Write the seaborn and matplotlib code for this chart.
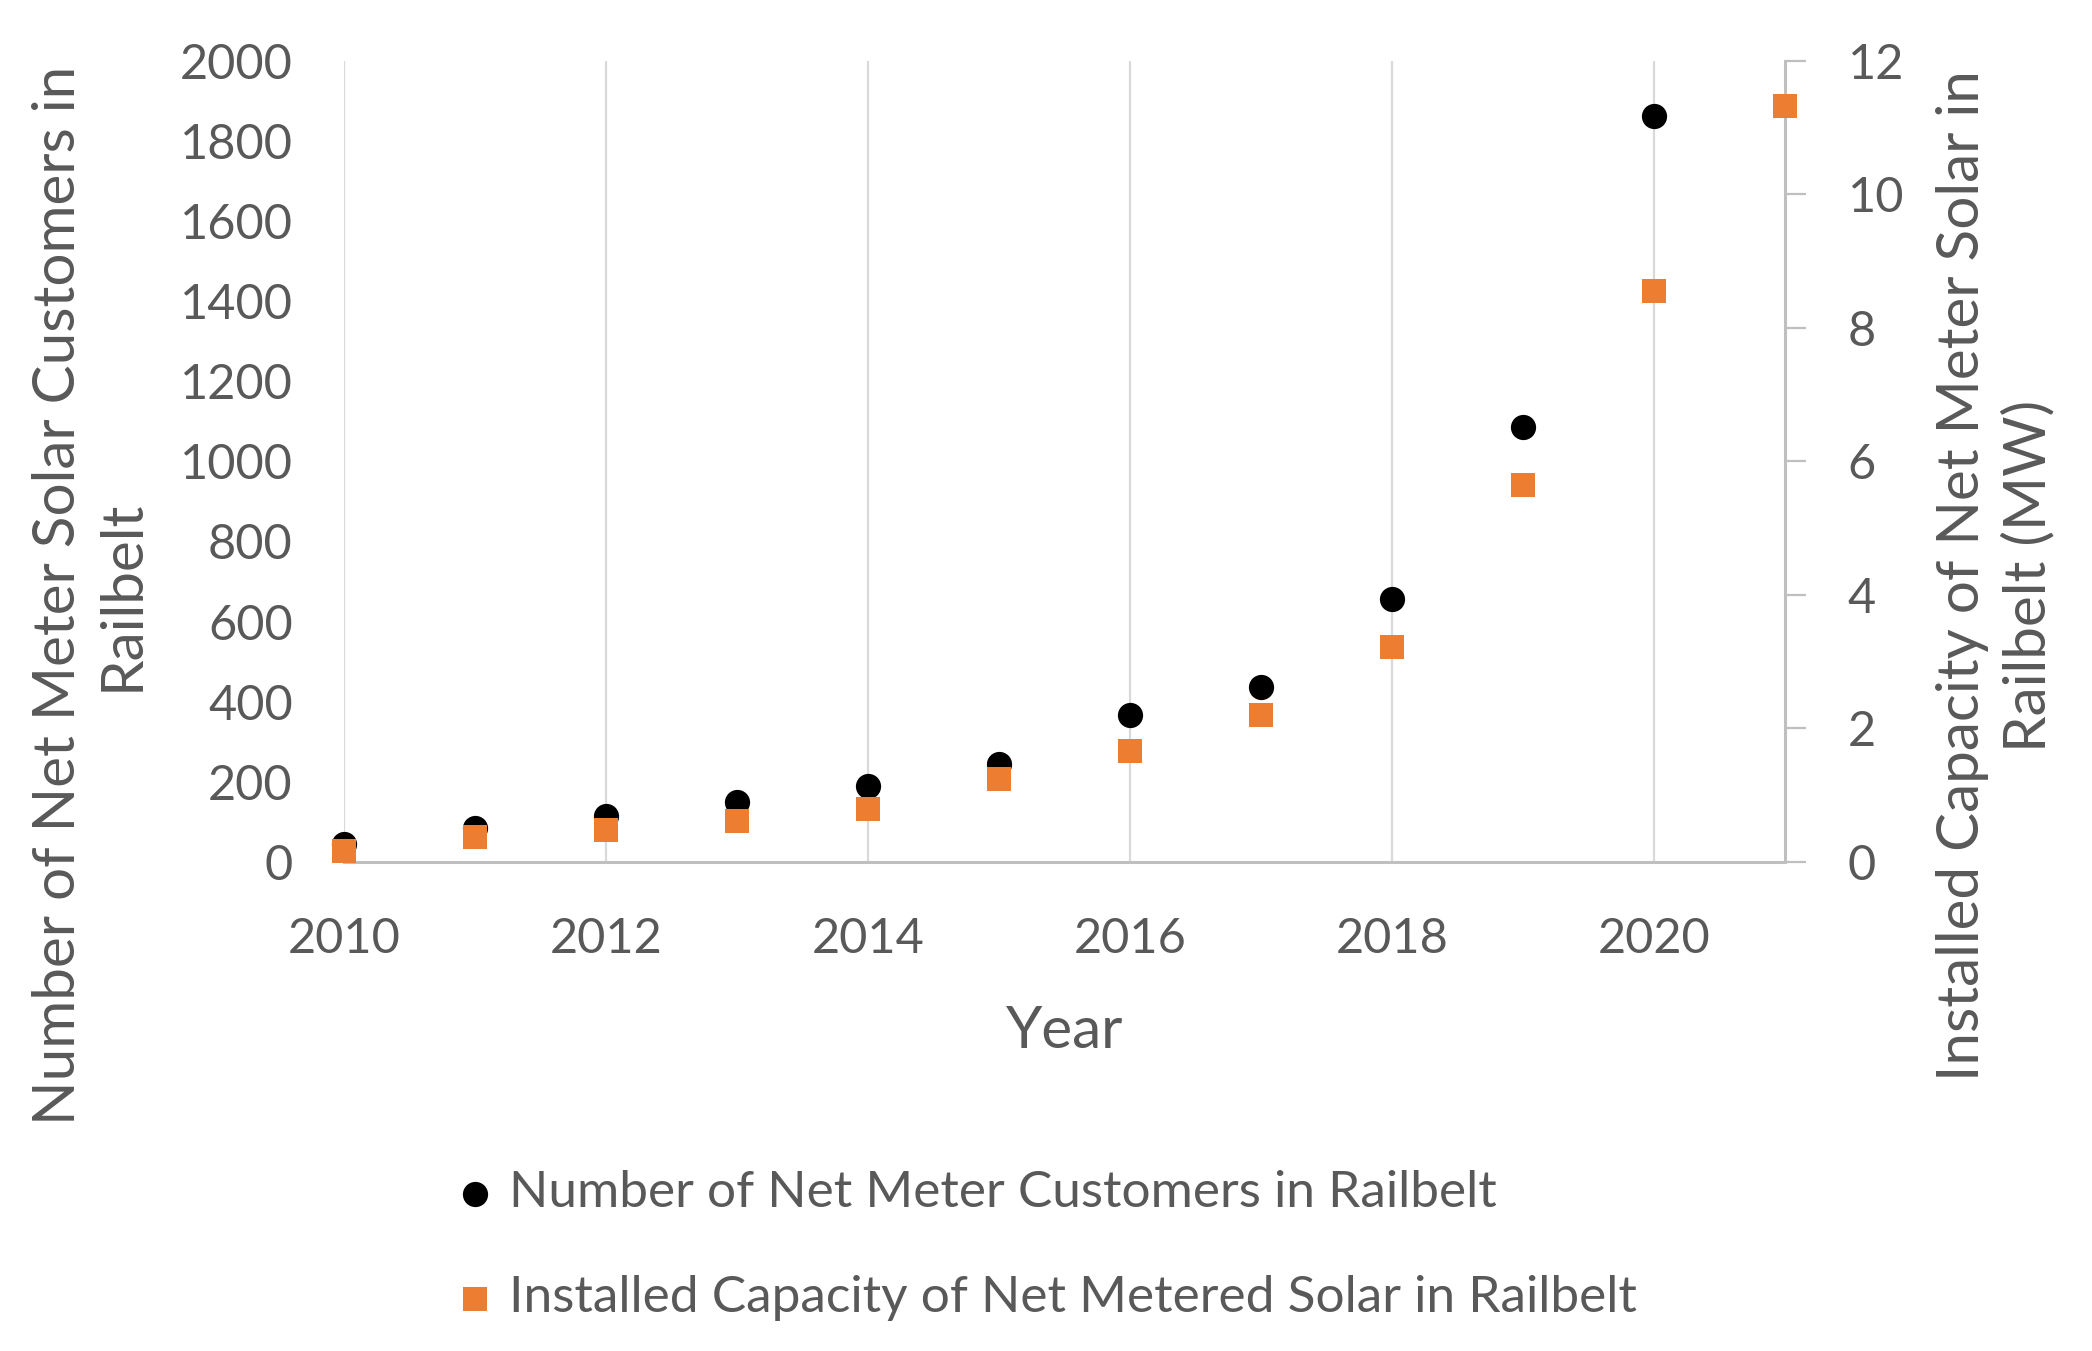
import numpy as np
import pandas as pd
import matplotlib
matplotlib.use('Agg')
import matplotlib.pyplot as plt
import seaborn as sns

# data
years = list(range(2010, 2022))
cust_years = list(range(2010, 2021))
customers = [45, 85, 115, 150, 190, 245, 367, 437, 657, 1087, 1863]
capacity = [0.17, 0.37, 0.48, 0.62, 0.80, 1.24, 1.66, 2.20, 3.22, 5.64, 8.55, 11.32]

cust_label = 'Number of Net Meter Customers in Railbelt'
cap_label = 'Installed Capacity of Net Metered Solar in Railbelt'
left_title = 'Number of Net Meter Solar Customers in\nRailbelt'
right_title = 'Installed Capacity of Net Meter Solar in\nRailbelt (MW)'

x_ticks = list(range(2010, 2021, 2))
left_ticks = list(range(0, 2001, 200))
right_ticks = list(range(0, 13, 2))

grey_txt = '#595959'
grey_line = '#bfbfbf'
orange = '#ed7d31'

sns.set_theme(style='white')
plt.rcParams['font.family'] = ['Lato', 'DejaVu Sans']

df1 = pd.DataFrame({'Year': cust_years, 'Customers': customers})
df2 = pd.DataFrame({'Year': years, 'Capacity': capacity})

fig = plt.figure(figsize=(20.92, 13.51), dpi=100)
ax = fig.add_axes([0.1645, 0.362, 0.6888, 0.593])

sns.scatterplot(data=df1, x='Year', y='Customers', ax=ax, color='black', marker='o',
                s=330, linewidth=0, zorder=3, clip_on=False, label=cust_label)
ax2 = ax.twinx()
sns.scatterplot(data=df2, x='Year', y='Capacity', ax=ax2, color=orange, marker='s',
                s=300, linewidth=0, zorder=3, clip_on=False, label=cap_label)

ax.set_xlim(2010, 2021)
ax.set_ylim(0, 2000)
ax2.set_ylim(0, 12)
ax.set_xticks(x_ticks)
ax.set_yticks(left_ticks)
ax2.set_yticks(right_ticks)

ax.grid(axis='x', color='#d9d9d9', lw=1.6)
ax.grid(axis='y', visible=False)
ax2.grid(False)

for s in ['left', 'top', 'right']:
    ax.spines[s].set_visible(False)
ax.spines['bottom'].set_color(grey_line)
ax.spines['bottom'].set_linewidth(2.2)
for s in ['left', 'top', 'bottom']:
    ax2.spines[s].set_visible(False)
ax2.spines['right'].set_color(grey_line)
ax2.spines['right'].set_linewidth(2.2)

ax.tick_params(axis='y', length=0, pad=37, labelsize=35, labelcolor=grey_txt)
ax.tick_params(axis='x', length=0, pad=40, labelsize=35, labelcolor=grey_txt)
ax2.tick_params(axis='y', direction='out', length=15, width=1.6, color=grey_line,
                pad=30, labelsize=35, labelcolor=grey_txt)

ax.set_ylabel('')
ax2.set_ylabel('')
ax.set_xlabel('Year', fontsize=42, color=grey_txt, labelpad=31)

fig.text(0.043, 0.559, left_title, rotation=90, ha='center', va='center',
         multialignment='center', fontsize=42, color=grey_txt, linespacing=1.25)
fig.text(0.954, 0.574, right_title, rotation=90, ha='center', va='center',
         multialignment='center', fontsize=42, color=grey_txt, linespacing=1.3)

h1, l1 = ax.get_legend_handles_labels()
h2, l2 = ax2.get_legend_handles_labels()
ax.get_legend().remove()
ax2.get_legend().remove()
fig.legend(h1 + h2, l1 + l2, loc='center left', bbox_to_anchor=(0.217, 0.078),
           frameon=False, fontsize=37, labelspacing=1.15, handlelength=0.8,
           handletextpad=0.28, borderpad=0, borderaxespad=0, labelcolor=grey_txt,
           scatterpoints=1)

fig.savefig('out.png', dpi=100)
